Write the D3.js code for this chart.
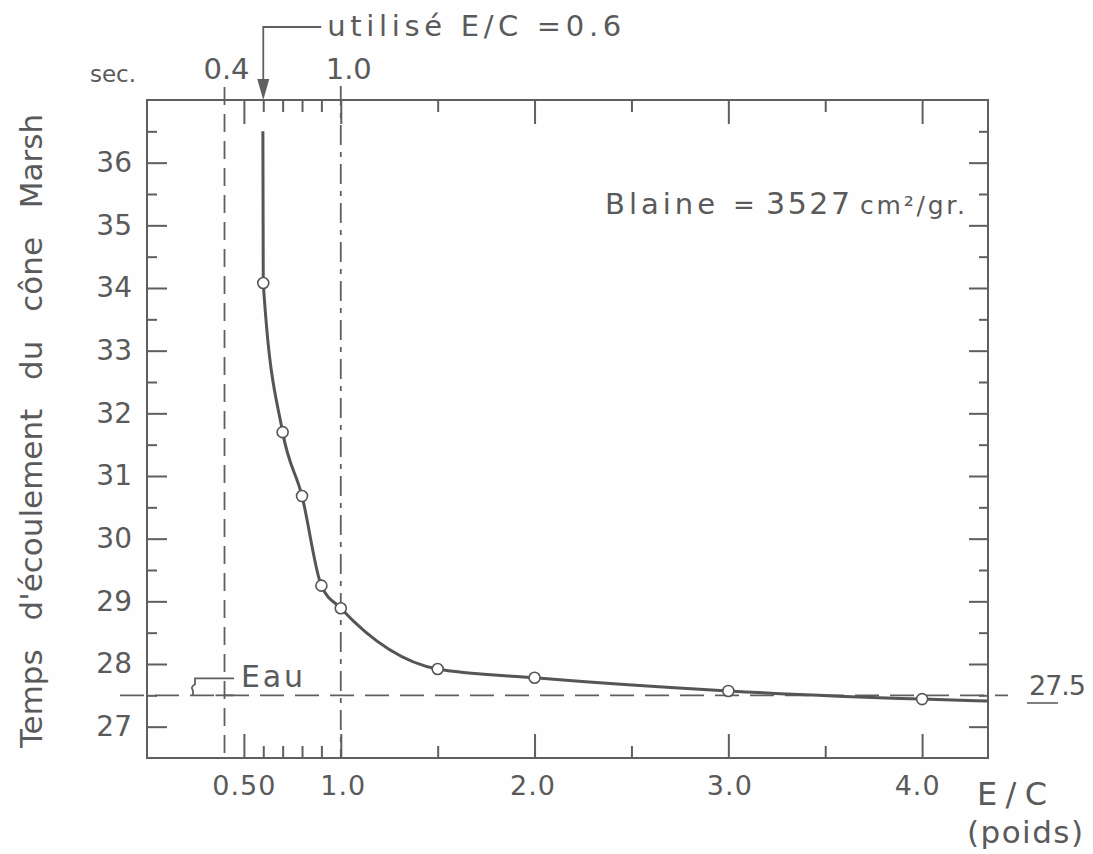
<!DOCTYPE html>
<html>
<head>
<meta charset="utf-8">
<script src="https://cdn.jsdelivr.net/npm/d3@7"></script>
<style>
  body { margin: 0; background: #fefefe; }
  svg text { font-family: "DejaVu Sans", sans-serif; fill: #5a5a5a; }
</style>
</head>
<body>
<svg id="chart"></svg>
<script>
const ecRatio = [0.6, 0.7, 0.8, 0.9, 1.0, 1.5, 2.0, 3.0, 4.0];
const flowTime = [34.08, 31.7, 30.68, 29.25, 28.89, 27.92, 27.78, 27.57, 27.44];
// curve keeps going past the measured points at both ends
const curveHead = [0.598, 36.5];
const curveTail = [4.34, 27.41];

const xMajor = [0.5, 1.0, 2.0, 3.0, 4.0];
const xMajorLabels = ["0.50", "1.0", "2.0", "3.0", "4.0"];
const xMinor = [0.6, 0.7, 0.8, 0.9, 1.5, 2.5, 3.5];
const topLabels = [0.4, 1.0];
const yMajor = [27, 28, 29, 30, 31, 32, 33, 34, 35, 36];
const yMinor = [27.5, 28.5, 29.5, 30.5, 31.5, 32.5, 33.5, 34.5, 35.5, 36.5];
const waterTime = 27.5;
const usedRatio = 0.6;
const limitLow = 0.4, limitHigh = 1.0;

const W = 1093, H = 854;
const plotL = 147, plotR = 988, plotT = 100, plotB = 758;
const ink = "#5f5f5f";

const svg = d3.select("#chart").attr("width", W).attr("height", H);

const x = d3.scaleLinear().domain([0, 4.34]).range([plotL, plotR]);
const y = d3.scaleLinear().domain([26.5, 37]).range([plotB, plotT]);

// frame
svg.append("rect")
  .attr("x", plotL).attr("y", plotT)
  .attr("width", plotR - plotL).attr("height", plotB - plotT)
  .attr("fill", "none").attr("stroke", ink).attr("stroke-width", 2);

function styleAxis(g) {
  g.select(".domain").remove();
  g.selectAll(".tick line").attr("stroke", ink).attr("stroke-width", 2);
}

// the hand lettering sits a little off the ticks
const labelShift = [0, 2, -2, 1, -5];

// bottom axis, ticks pointing in
svg.append("g").attr("transform", `translate(0,${plotB})`)
  .call(d3.axisBottom(x).tickValues(xMajor).tickSizeInner(-24).tickSizeOuter(0).tickPadding(18)
    .tickFormat((d, i) => xMajorLabels[i]))
  .call(styleAxis)
  .call(g => g.selectAll("text").attr("font-size", 27).attr("fill", "#5a5a5a")
    .attr("font-family", "DejaVu Sans").attr("letter-spacing", 1)
    .attr("dx", (d, i) => labelShift[i]));
svg.append("g").attr("transform", `translate(0,${plotB})`)
  .call(d3.axisBottom(x).tickValues(xMinor).tickSizeInner(-12).tickSizeOuter(0).tickFormat(""))
  .call(styleAxis);

// top axis
svg.append("g").attr("transform", `translate(0,${plotT})`)
  .call(d3.axisTop(x).tickValues(xMajor).tickSizeInner(-24).tickSizeOuter(0).tickFormat(""))
  .call(styleAxis);
svg.append("g").attr("transform", `translate(0,${plotT})`)
  .call(d3.axisTop(x).tickValues(xMinor).tickSizeInner(-12).tickSizeOuter(0).tickFormat(""))
  .call(styleAxis);

// left axis
svg.append("g").attr("transform", `translate(${plotL},0)`)
  .call(d3.axisLeft(y).tickValues(yMajor).tickSizeInner(-20).tickSizeOuter(0).tickPadding(15))
  .call(styleAxis)
  .call(g => g.selectAll("text").attr("font-size", 28).attr("fill", "#5a5a5a")
    .attr("font-family", "DejaVu Sans"));
svg.append("g").attr("transform", `translate(${plotL},0)`)
  .call(d3.axisLeft(y).tickValues(yMinor).tickSizeInner(-10).tickSizeOuter(0).tickFormat(""))
  .call(styleAxis);

// right axis
svg.append("g").attr("transform", `translate(${plotR},0)`)
  .call(d3.axisRight(y).tickValues(yMajor).tickSizeInner(-19).tickSizeOuter(0).tickFormat(""))
  .call(styleAxis);
svg.append("g").attr("transform", `translate(${plotR},0)`)
  .call(d3.axisRight(y).tickValues(yMinor).tickSizeInner(-9).tickSizeOuter(0).tickFormat(""))
  .call(styleAxis);

// water reference line
svg.append("line")
  .attr("x1", 120).attr("x2", plotR + 20)
  .attr("y1", y(waterTime)).attr("y2", y(waterTime))
  .attr("stroke", ink).attr("stroke-width", 1.8)
  .attr("stroke-dasharray", "24,11");

// limits of the tested range
svg.append("line")
  .attr("x1", x(limitLow)).attr("x2", x(limitLow))
  .attr("y1", plotT - 13).attr("y2", plotB)
  .attr("stroke", ink).attr("stroke-width", 1.8)
  .attr("stroke-dasharray", "18,9");
svg.append("line")
  .attr("x1", x(limitHigh)).attr("x2", x(limitHigh))
  .attr("y1", plotT - 14).attr("y2", plotB)
  .attr("stroke", ink).attr("stroke-width", 1.8)
  .attr("stroke-dasharray", "20,7,5,7");

// curve through the points
const curvePts = [curveHead].concat(ecRatio.map((d, i) => [d, flowTime[i]]), [curveTail]);
svg.append("path")
  .datum(curvePts)
  .attr("fill", "none").attr("stroke", "#555").attr("stroke-width", 3)
  .attr("d", d3.line().x(d => x(d[0])).y(d => y(d[1])).curve(d3.curveMonotoneX));

svg.selectAll("circle.pt")
  .data(ecRatio)
  .join("circle")
  .attr("class", "pt")
  .attr("cx", d => x(d))
  .attr("cy", (d, i) => y(flowTime[i]))
  .attr("r", 5.5)
  .attr("fill", "#fff").attr("stroke", "#555").attr("stroke-width", 1.6);

// arrow for the chosen ratio
const ax = x(usedRatio);
svg.append("path")
  .attr("d", `M${ax + 58},27 H${ax} V80`)
  .attr("fill", "none").attr("stroke", ink).attr("stroke-width", 1.8);
svg.append("path")
  .attr("d", `M${ax - 6},79 L${ax + 6},79 L${ax},${plotT} Z`)
  .attr("fill", ink);
svg.append("text")
  .attr("x", ax + 64).attr("y", 36)
  .attr("font-size", 29)
  .attr("textLength", 294).attr("lengthAdjust", "spacing")
  .text("utilisé  E/C =0.6");

// top labels
svg.selectAll("text.toplab")
  .data(topLabels)
  .join("text")
  .attr("class", "toplab")
  .attr("x", (d, i) => x(d) + (i === 0 ? 2 : 8))
  .attr("y", 79)
  .attr("text-anchor", "middle")
  .attr("font-size", 29)
  .text(d => d.toFixed(1));
svg.append("text")
  .attr("x", 90).attr("y", 82)
  .attr("font-size", 23)
  .attr("textLength", 46).attr("lengthAdjust", "spacing")
  .text("sec.");

// water label with leader
const wy = y(waterTime);
svg.append("path")
  .attr("d", `M193,${wy} v-5 q-3,-3 2,-6 v-6 H234`)
  .attr("fill", "none").attr("stroke", ink).attr("stroke-width", 1.8);
svg.append("line")
  .attr("x1", x(limitLow) - 9).attr("x2", x(limitLow) + 9)
  .attr("y1", wy).attr("y2", wy)
  .attr("stroke", ink).attr("stroke-width", 1.8);
svg.append("text")
  .attr("x", 241).attr("y", 687)
  .attr("font-size", 30)
  .attr("textLength", 62).attr("lengthAdjust", "spacing")
  .text("Eau");

// 27.5 on the right
svg.append("text")
  .attr("x", 1029).attr("y", 695)
  .attr("font-size", 27)
  .attr("textLength", 57).attr("lengthAdjust", "spacing")
  .text(waterTime.toString());
svg.append("line")
  .attr("x1", 1027).attr("x2", 1058)
  .attr("y1", 703).attr("y2", 703)
  .attr("stroke", ink).attr("stroke-width", 1.6);

// Blaine note
svg.append("text").attr("x", 605).attr("y", 214).attr("font-size", 29)
  .attr("textLength", 110).attr("lengthAdjust", "spacing").text("Blaine");
svg.append("text").attr("x", 733).attr("y", 214).attr("font-size", 26).text("=");
svg.append("text").attr("x", 766).attr("y", 214).attr("font-size", 30)
  .attr("textLength", 84).attr("lengthAdjust", "spacing").text("3527");
svg.append("text").attr("x", 860).attr("y", 214).attr("font-size", 25)
  .attr("textLength", 105).attr("lengthAdjust", "spacing").text("cm²/gr.");

// axis titles
svg.append("text")
  .attr("x", 977).attr("y", 805)
  .attr("font-size", 32)
  .attr("textLength", 70).attr("lengthAdjust", "spacing")
  .text("E/C");
svg.append("text")
  .attr("x", 967).attr("y", 843)
  .attr("font-size", 31)
  .attr("textLength", 116).attr("lengthAdjust", "spacing")
  .text("(poids)");

svg.append("text")
  .attr("transform", "translate(42,431) rotate(-90)")
  .attr("text-anchor", "middle")
  .attr("font-size", 31)
  .attr("word-spacing", 19)
  .text("Temps d'écoulement du cône Marsh");
</script>
</body>
</html>
